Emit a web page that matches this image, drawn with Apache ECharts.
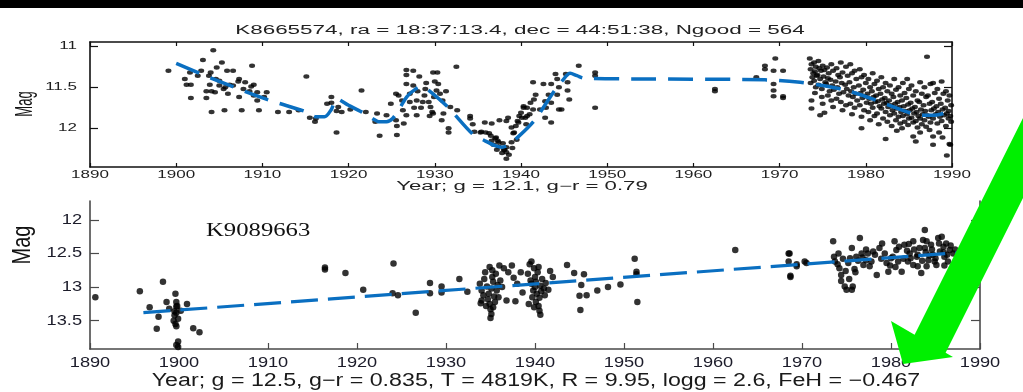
<!DOCTYPE html>
<html>
<head>
<meta charset="utf-8">
<script src="https://cdn.jsdelivr.net/npm/echarts@6/dist/echarts.min.js"></script>
<style>
  html, body { margin: 0; padding: 0; background: #fff; }
  #main { width: 1023px; height: 392px; }
</style>
</head>
<body>
<div id="main"></div>
<script>
// ---- Axis ticks -------------------------------------------------------
const yearTicks = [1890, 1900, 1910, 1920, 1930, 1940, 1950, 1960, 1970, 1980, 1990];
const topMagTicks = [11, 11.5, 12];
const bottomMagTicks = [12, 12.5, 13, 13.5];

// ---- KIC 8665574 photometry: [year, magnitude] --------------------------
const topEarly = [
  [1899.1,11.30],[1901.6,11.32],[1901.0,11.40],[1901.2,11.47],[1901.7,11.47],[1903.1,11.17],[1904.3,11.05],
  [1904.0,11.32],[1904.7,11.26],[1905.3,11.20],[1902.9,11.30],[1903.8,11.36],[1903.9,11.47],[1904.1,11.55],
  [1903.5,11.63],[1901.7,11.63],[1904.1,11.80],[1905.6,11.78],[1907.6,11.78],[1905.9,11.30],[1906.6,11.30],
  [1906.2,11.47],[1907.2,11.43],[1908.8,11.24],[1907.3,11.62],[1908.5,11.55],[1909.0,11.47],[1909.4,11.56],
  [1910.5,11.56],[1909.4,11.66],[1909.6,11.78],[1911.8,11.80],[1913.1,11.80],[1907.3,11.40],[1905.0,11.48],
  [1905.7,11.50],[1905.0,11.42],[1906.6,11.48],[1907.8,11.52],[1908.7,11.49],[1909.0,11.60],[1903.5,11.55],
  [1904.5,11.56],[1902.5,11.36],[1904.6,11.40],[1905.5,11.52],[1906.0,11.58],[1908.0,11.44],[1910.2,11.62],
  [1915.1,11.37],[1915.5,11.87],[1916.1,11.92],[1916.2,11.88],[1918.0,11.62],[1918.0,11.69],[1918.8,11.74],
  [1918.6,11.79],[1919.2,11.80],[1918.6,12.05],[1921.5,11.54],[1923.3,11.82],[1923.1,11.92],[1923.6,12.09],
  [1924.4,11.84],[1925.5,11.90],[1925.6,11.97],[1925.6,12.08],[1925.5,11.58],[1925.8,11.60],[1914.2,11.78],
  [1917.5,11.70],[1920.2,11.77],[1922.0,11.80],[1924.9,11.70]
];
const topMiddle = [
  [1926.7,11.29],[1926.7,11.35],[1927.5,11.30],[1928.2,11.37],[1926.7,11.46],[1927.5,11.48],[1927.1,11.58],
  [1927.9,11.66],[1927.1,11.68],[1926.3,11.78],[1926.7,11.84],[1927.9,11.84],[1928.6,11.68],[1929.3,11.68],
  [1929.5,11.74],[1929.8,11.32],[1930.3,11.32],[1930.0,11.43],[1930.4,11.46],[1930.2,11.54],[1930.6,11.58],
  [1929.7,11.80],[1929.4,11.85],[1931.0,11.82],[1930.8,11.90],[1931.8,11.74],[1932.6,11.78],[1932.5,11.25],
  [1931.6,12.05],[1928.0,11.55],[1928.8,11.60],[1929.0,11.45],[1928.4,11.75],[1929.9,11.62],[1930.9,11.66],
  [1931.3,11.55],[1926.4,11.94],[1929.8,11.82],[1931.6,12.00],[1926.2,11.66],[1928.9,11.52],[1927.6,11.75],
  [1934.1,11.88],[1934.4,11.95],[1934.6,12.04],[1935.8,11.93],[1936.6,12.15],[1937.4,12.17],[1934.1,11.85],
  [1935.3,12.05],[1935.9,12.05],[1936.5,12.09],[1937.1,12.11],[1937.3,12.15],[1937.9,12.18],[1938.1,12.26],
  [1938.3,12.29],[1938.3,12.37],[1938.3,12.23],[1938.9,12.17],[1939.2,12.05],[1939.4,11.97],[1939.6,11.91],
  [1939.8,11.85],[1940.0,11.81],[1940.3,11.75],[1940.5,11.87],[1940.6,11.95],[1941.0,11.83],[1941.4,11.77],
  [1942.9,11.75],[1943.5,11.93],[1944.7,11.77],[1937.5,11.90],[1936.6,11.94],[1935.4,12.04],[1936.3,12.06],
  [1937.0,12.12],[1937.4,12.22],[1938.0,12.26],[1938.5,11.87],[1938.3,11.91],[1938.9,11.99],[1939.1,12.06],
  [1939.5,12.14],[1939.7,11.93],[1940.1,11.87],[1940.3,11.73],[1940.7,11.75],[1940.7,11.85],[1941.1,11.69],
  [1941.5,11.65],[1941.7,11.59],[1941.4,11.44],[1942.6,11.46],[1943.5,11.46],[1942.8,11.67],[1943.5,11.69],
  [1942.8,11.87],[1942.2,11.77],[1943.2,11.59],[1944.0,11.34],[1944.2,11.40],[1944.4,11.50],[1944.2,11.59],
  [1944.4,11.77],[1945.2,11.34],[1945.4,11.44],[1945.4,11.54],[1945.6,11.65],[1946.7,11.24],[1948.6,11.32],
  [1948.6,11.36],[1948.6,11.75],[1937.8,12.30],[1938.6,12.32],[1937.2,12.26],[1936.8,12.20],[1939.0,12.24],
  [1962.5,11.52],[1962.5,11.55],[1967.3,11.38],[1968.3,11.24],[1968.3,11.28],[1969.5,11.15],[1969.3,11.30],
  [1970.4,11.30],[1969.3,11.46],[1969.3,11.54],[1969.3,11.61],[1970.4,11.61],[1970.4,11.63]
];
const topLate = [
  [1973.5,11.15],[1973.7,11.22],[1973.6,11.28],[1973.9,11.33],[1973.8,11.38],[1973.6,11.45],[1973.7,11.66],[1973.7,11.76],[1974.7,11.84],
  [1974.0,11.20],[1974.2,11.25],[1974.1,11.31],[1974.3,11.36],[1974.0,11.42],[1974.2,11.50],[1974.1,11.57],
  [1974.5,11.18],[1974.6,11.27],[1974.8,11.30],[1974.4,11.35],[1974.7,11.40],[1974.5,11.47],[1974.9,11.62],
  [1975.0,11.24],[1975.2,11.29],[1975.1,11.37],[1975.3,11.44],[1974.9,11.52],[1975.0,11.70],[1975.2,11.81],
  [1975.5,11.26],[1975.7,11.33],[1975.6,11.39],[1975.4,11.46],[1975.8,11.55],[1975.6,11.60],
  [1976.0,11.22],[1976.2,11.30],[1975.9,11.41],[1976.1,11.48],[1976.3,11.53],[1976.0,11.66],[1976.2,11.74],
  [1976.6,11.27],[1976.8,11.35],[1976.5,11.43],[1976.7,11.50],[1976.9,11.58],[1976.6,11.64],
  [1977.1,11.20],[1977.3,11.32],[1977.0,11.38],[1977.2,11.45],[1977.4,11.56],[1977.1,11.68],[1977.3,11.78],
  [1977.7,11.25],[1977.9,11.36],[1977.6,11.47],[1977.8,11.52],[1978.0,11.60],[1977.7,11.72],
  [1978.2,11.22],[1978.4,11.33],[1978.1,11.44],[1978.3,11.55],[1978.5,11.62],[1978.2,11.70],[1978.4,11.83],
  [1978.7,11.30],[1978.9,11.40],[1978.6,11.50],[1978.8,11.58],[1979.0,11.66],[1978.7,11.75],
  [1979.3,11.28],[1979.5,11.38],[1979.2,11.48],[1979.4,11.57],[1979.6,11.63],[1979.3,11.72],[1979.5,11.86],[1979.5,12.00],
  [1979.8,11.35],[1980.0,11.45],[1979.7,11.53],[1979.9,11.61],[1980.1,11.69],[1979.8,11.78],
  [1980.3,11.40],[1980.5,11.50],[1980.2,11.58],[1980.4,11.64],[1980.6,11.70],[1980.3,11.80],[1980.5,11.90],
  [1980.8,11.33],[1981.0,11.46],[1980.7,11.55],[1980.9,11.62],[1981.1,11.68],[1980.8,11.75],[1981.0,11.85],
  [1981.3,11.42],[1981.5,11.52],[1981.2,11.60],[1981.4,11.67],[1981.6,11.73],[1981.3,11.82],[1981.5,11.95],
  [1981.8,11.38],[1982.0,11.50],[1981.7,11.58],[1981.9,11.65],[1982.1,11.70],[1981.8,11.76],[1982.0,11.88],
  [1982.3,11.45],[1982.5,11.55],[1982.2,11.63],[1982.4,11.69],[1982.6,11.74],[1982.3,11.80],[1982.5,11.92],[1982.3,12.13],
  [1982.8,11.48],[1983.0,11.58],[1982.7,11.66],[1982.9,11.72],[1983.1,11.78],[1982.8,11.84],[1983.0,11.97],
  [1983.3,11.40],[1983.5,11.53],[1983.2,11.62],[1983.4,11.70],[1983.6,11.76],[1983.3,11.82],[1983.5,11.90],[1983.6,12.03],
  [1983.8,11.50],[1984.0,11.60],[1983.7,11.68],[1983.9,11.74],[1984.1,11.80],[1983.8,11.86],[1984.0,11.94],
  [1984.3,11.45],[1984.5,11.57],[1984.2,11.66],[1984.4,11.73],[1984.6,11.79],[1984.3,11.85],[1984.5,11.92],[1984.2,12.00],
  [1984.8,11.40],[1985.0,11.52],[1984.7,11.63],[1984.9,11.71],[1985.1,11.78],[1984.8,11.83],[1985.0,11.88],[1984.9,11.96],
  [1985.3,11.48],[1985.5,11.60],[1985.2,11.69],[1985.4,11.76],[1985.6,11.82],[1985.3,11.87],[1985.5,11.93],[1985.5,12.10],
  [1985.8,11.55],[1986.0,11.66],[1985.7,11.74],[1985.9,11.80],[1986.1,11.85],[1985.8,11.91],[1986.0,11.99],[1985.8,12.16],
  [1986.3,11.44],[1986.5,11.58],[1986.2,11.68],[1986.4,11.77],[1986.6,11.83],[1986.3,11.88],[1986.5,11.95],[1986.3,12.05],
  [1986.8,11.50],[1987.0,11.62],[1986.7,11.72],[1986.9,11.79],[1987.1,11.84],[1986.8,11.90],[1987.0,11.98],
  [1987.1,11.13],[1987.5,11.46],[1987.2,11.60],[1987.4,11.70],[1987.6,11.78],[1987.3,11.86],[1987.5,11.93],[1987.4,12.02],
  [1987.8,11.45],[1988.0,11.57],[1987.7,11.68],[1987.9,11.76],[1988.1,11.83],[1987.8,11.88],[1987.8,12.10],[1987.8,12.20],
  [1988.3,11.52],[1988.5,11.64],[1988.2,11.73],[1988.4,11.80],[1988.6,11.86],[1988.3,11.94],[1988.5,12.05],
  [1988.8,11.43],[1989.0,11.58],[1988.7,11.70],[1988.9,11.77],[1989.1,11.84],[1988.8,11.91],[1988.9,12.11],
  [1989.3,11.55],[1989.5,11.66],[1989.2,11.75],[1989.4,11.82],[1989.6,11.88],[1989.3,11.97],[1989.8,12.20],[1989.4,12.33],
  [1989.7,11.60],[1989.9,11.72],[1989.6,11.79],[1989.8,11.85],[1989.9,11.92],[1989.7,12.19]
];
// smoothed light-curve trend for KIC 8665574
const topTrend = [
  [1900,11.21],[1905,11.43],[1910.6,11.65],[1915.1,11.80],[1916.2,11.86],[1917.2,11.86],[1918.0,11.77],
  [1918.6,11.64],[1920.0,11.72],[1921.5,11.80],[1922.6,11.87],[1923.6,11.92],[1924.4,11.92],[1925.1,11.88],
  [1925.9,11.76],[1926.8,11.61],[1927.8,11.52],[1928.5,11.49],[1929.2,11.53],[1931.5,11.74],[1934.4,12.07],
  [1935.8,12.15],[1937.0,12.21],[1937.8,12.23],[1938.6,12.20],[1939.4,12.13],[1941.5,11.91],[1943.9,11.54],
  [1944.8,11.42],[1945.7,11.33],[1946.5,11.36],[1947.3,11.39],[1955,11.40],[1968.3,11.41],[1972.4,11.44],
  [1975,11.48],[1977.8,11.54],[1981,11.65],[1984.8,11.80],[1986.3,11.84],[1988,11.84],[1989,11.82]
];

// ---- KIC 9089663 photometry: [year, magnitude] --------------------------
const bottomEarly = [
  [1890.6,13.15],[1895.6,13.06],[1898.2,12.92],[1896.7,13.30],[1897.7,13.44],[1897.5,13.62],[1899.6,13.10],
  [1898.6,13.22],[1899.7,13.22],[1899.7,13.29],[1899.5,13.36],[1899.7,13.38],[1899.4,13.50],[1899.6,13.55],
  [1899.7,13.58],[1899.9,13.81],[1899.7,13.86],[1899.9,13.89],[1900.9,13.25],[1901.6,13.61],[1902.3,13.67],
  [1898.9,13.32],[1900.2,13.35],[1899.9,13.47],[1899.8,13.28],[1899.5,13.42],
  [1916.4,12.71],[1916.4,12.74],[1918.7,12.79],[1920.7,13.04],[1924.1,12.65],[1924.0,13.09],[1924.6,13.12],
  [1926.6,13.38],[1928.2,12.94],[1928.2,13.09],[1929.5,12.99],[1929.5,13.08],[1931.5,12.88],[1932.4,13.07]
];
const bottomMiddle = [
  [1933.8,12.95],[1934.0,13.05],[1934.2,13.12],[1934.0,13.20],[1934.3,12.88],[1934.5,13.28],[1934.6,12.99],
  [1934.8,13.10],[1934.7,13.18],[1934.9,13.25],[1935.0,13.33],[1935.1,13.40],[1935.0,13.46],[1935.2,12.85],
  [1935.3,12.92],[1935.1,13.02],[1935.4,13.14],[1935.5,13.22],[1935.3,13.30],[1935.2,12.75],[1935.6,12.80],
  [1935.7,13.05],[1935.8,12.97],[1936.0,12.68],[1936.1,12.90],[1935.9,13.15],[1934.4,12.78],[1933.9,13.24],
  [1936.3,13.00],[1936.5,12.72],[1937.0,12.78],[1937.4,12.68],[1937.6,12.86],[1937.8,13.21],[1938.0,12.95],
  [1938.4,12.78],[1938.6,13.08],[1936.8,13.20],[1934.9,12.70],
  [1939.2,12.80],[1939.4,12.66],[1939.6,12.62],[1939.6,12.95],[1939.8,13.05],[1939.7,13.15],[1939.9,12.72],
  [1940.0,12.85],[1940.1,12.92],[1940.0,13.00],[1940.2,13.10],[1940.1,13.22],[1940.3,12.78],[1940.4,13.28],
  [1940.5,13.35],[1940.6,13.41],[1940.4,12.70],[1940.6,12.98],[1940.7,13.06],[1940.5,13.16],[1940.8,12.88],
  [1941.0,13.02],[1941.2,12.94],[1941.1,13.12],[1939.3,13.25],[1939.5,12.90],[1941.5,13.04],[1942.0,12.85],
  [1941.7,12.76],[1939.9,13.30],
  [1943.6,12.67],[1944.4,12.79],[1945.5,12.81],[1945.2,12.97],[1945.0,13.13],[1945.8,13.12],[1945.1,13.34],
  [1947.0,13.05],[1948.2,13.00],[1949.6,12.96],[1951.2,12.58],[1951.4,12.77],[1951.4,12.81],[1951.5,13.22],
  [1962.5,12.45]
];
const bottomLate = [
  [1968.5,12.50],[1968.5,12.62],[1968.7,12.83],[1968.7,12.85],[1969.4,12.66],[1970.3,12.62],
  [1968.6,12.50],[1969.4,12.69],[1970.5,12.64],[1973.5,12.32],[1973.7,12.62],[1974.1,12.50],[1974.2,12.72],
  [1974.4,12.82],[1974.4,12.91],[1974.8,12.99],[1975.0,13.04],[1975.6,13.04],[1975.7,12.99],[1975.6,12.42],
  [1975.4,12.57],[1976.1,12.55],[1976.5,12.27],[1976.7,12.50],[1976.9,12.67],[1977.4,12.50],[1977.6,12.69],
  [1978.4,12.82],[1978.7,12.42],[1979.5,12.64],[1979.7,12.77],[1980.4,12.32],[1980.6,12.45],[1980.8,12.62],
  [1981.2,12.77],[1981.5,12.37],[1981.9,12.62],[1982.1,12.50],[1982.5,12.32],[1982.9,12.55],[1983.0,12.69],
  [1983.4,12.79],[1983.6,12.30],[1983.8,12.15],[1983.8,12.42],[1984.2,12.60],[1984.5,12.37],[1984.7,12.52],
  [1985.1,12.67],[1985.3,12.27],[1985.7,12.25],[1985.9,12.40],[1986.0,12.55],[1986.2,12.35],[1986.4,12.62],
  [1986.6,12.45],[1987.0,12.50],[1988.8,12.94],[1978.2,12.52],[1977.2,12.60],[1980.0,12.57],[1982.5,12.67],
  [1983.2,12.42],[1984.0,12.69],[1984.9,12.62],[1985.5,12.47],
  [1973.6,12.55],[1974.0,12.66],[1974.6,12.58],[1975.2,12.64],[1975.9,12.73],[1976.3,12.61],[1976.8,12.56],
  [1977.2,12.44],[1977.8,12.62],[1978.0,12.47],[1978.9,12.58],[1979.3,12.50],[1979.9,12.68],[1980.2,12.55],
  [1980.9,12.40],[1981.4,12.58],[1981.8,12.46],[1982.2,12.57],[1982.6,12.44],[1983.0,12.52],[1983.5,12.61],
  [1983.9,12.48],[1984.3,12.53],[1984.6,12.44],[1985.0,12.57],[1985.4,12.35],[1985.9,12.48],[1986.3,12.52],
  [1986.7,12.38],[1987.2,12.44],[1987.5,12.58],[1986.0,12.68],[1984.0,12.32],[1982.0,12.36],[1980.5,12.70],
  [1979.0,12.35],[1976.0,12.78],[1975.3,12.88],[1974.9,12.76]
];
// linear trend for KIC 9089663
const bottomTrend = [[1896,13.38],[1987.5,12.49]];

// ---- Axis ranges ------------------------------------------------------
const topMagRange = [10.95, 12.47];
const bottomMagRange = [11.72, 13.92];
const yearRange = [1890, 1990];

const INK = '#151515';
const TREND_BLUE = '#0a6fc1';
const FONT = "'Liberation Sans', Arial, Helvetica, sans-serif";

const chart = echarts.init(document.getElementById('main'), null, { renderer: 'canvas' });

function xAxisCfg(grid, position, tickLen, lineColor) {
  return {
    type: 'value', gridIndex: grid, position: position,
    min: yearRange[0], max: yearRange[1], interval: 10,
    axisLine: { show: true, onZero: false, lineStyle: { color: lineColor, width: 1.6 } },
    axisTick: { show: true, inside: true, length: tickLen, lineStyle: { color: lineColor, width: 1.2 } },
    axisLabel: { show: false }, splitLine: { show: false }
  };
}
function yAxisCfg(grid, position, range, ticks, tickLen, lineColor) {
  return {
    type: 'value', gridIndex: grid, position: position, inverse: true,
    min: range[0], max: range[1],
    axisLine: { show: true, onZero: false, lineStyle: { color: lineColor, width: 1.6 } },
    axisTick: { show: true, inside: true, length: tickLen, customValues: ticks,
                lineStyle: { color: lineColor, width: 1.2 } },
    axisLabel: { show: false }, splitLine: { show: false }
  };
}

chart.setOption({
  animation: false,
  backgroundColor: '#ffffff',
  grid: [
    { left: 90, top: 42, width: 862, height: 125 },
    { left: 90, top: 201, width: 890, height: 148 }
  ],
  xAxis: [
    xAxisCfg(0, 'bottom', 4, '#111'),
    xAxisCfg(0, 'top', 4, '#111'),
    xAxisCfg(1, 'bottom', 6, '#4a4a4a')
  ],
  yAxis: [
    yAxisCfg(0, 'left', topMagRange, topMagTicks, 8, '#111'),
    yAxisCfg(0, 'right', topMagRange, topMagTicks, 8, '#111'),
    yAxisCfg(1, 'left', bottomMagRange, bottomMagTicks, 9, '#4a4a4a'),
    yAxisCfg(1, 'right', bottomMagRange, bottomMagTicks, 9, '#4a4a4a')
  ],
  series: [
    {
      name: 'KIC 8665574', type: 'scatter', xAxisIndex: 0, yAxisIndex: 0,
      data: topEarly.concat(topMiddle, topLate),
      symbol: 'circle', symbolSize: [6, 4.5],
      itemStyle: { color: '#000' }, z: 2
    },
    {
      name: 'KIC 8665574 trend', type: 'line', xAxisIndex: 0, yAxisIndex: 0,
      data: topTrend, smooth: 0.3, showSymbol: false,
      lineStyle: { color: TREND_BLUE, width: 3.5, type: [25, 12], cap: 'butt' }, z: 3
    },
    {
      name: 'KIC 9089663', type: 'scatter', xAxisIndex: 2, yAxisIndex: 2,
      data: bottomEarly.concat(bottomMiddle, bottomLate),
      symbol: 'circle', symbolSize: 6.5,
      itemStyle: { color: '#000' }, z: 2
    },
    {
      name: 'KIC 9089663 trend', type: 'line', xAxisIndex: 2, yAxisIndex: 2,
      data: bottomTrend, showSymbol: false,
      lineStyle: { color: TREND_BLUE, width: 3.2, type: [27, 10], cap: 'butt' }, z: 3
    }
  ]
});

// ---- Text and annotations -----------------------------------------------
function label(text, x, y, size, align, stretchX, color) {
  return {
    type: 'text', x: x, y: y, scaleX: stretchX, silent: true, z: 10,
    style: {
      text: text, font: size + 'px ' + FONT, fill: color || INK,
      align: align, verticalAlign: 'middle',
      textAlign: align, textVerticalAlign: 'middle'
    }
  };
}

function px(xi, yi, x, y) {
  return chart.convertToPixel({ xAxisIndex: xi, yAxisIndex: yi }, [x, y]);
}

const elements = [
  { type: 'rect', shape: { x: 0, y: 0, width: 1023, height: 8 }, style: { fill: '#000' }, z: 20, silent: true },
  label('K8665574, ra = 18:37:13.4, dec = 44:51:38, Ngood = 564', 520, 31, 12, 'center', 1.87, '#222'),
  label('Year; g = 12.1, g\u2212r = 0.79', 522, 187, 12, 'center', 1.85, '#222'),
  {
    type: 'text', x: 26, y: 104, rotation: Math.PI / 2, scaleY: 1.8, silent: true, z: 10,
    style: { text: 'Mag', font: '13px ' + FONT, fill: '#151515', align: 'center', verticalAlign: 'middle',
             textAlign: 'center', textVerticalAlign: 'middle' }
  },
  {
    type: 'text', x: 23, y: 245, rotation: Math.PI / 2, scaleY: 1.3, silent: true, z: 10,
    style: { text: 'Mag', font: '20px ' + FONT, fill: '#111', align: 'center', verticalAlign: 'middle',
             textAlign: 'center', textVerticalAlign: 'middle' }
  },
  {
    type: 'text', x: 206, y: 231, scaleX: 1.3, silent: true, z: 10,
    style: { text: 'K9089663', font: "19px 'Liberation Serif', 'Times New Roman', serif", fill: '#111',
             align: 'left', verticalAlign: 'middle', textAlign: 'left', textVerticalAlign: 'middle' }
  },
  label('Year; g = 12.5, g\u2212r = 0.835, T = 4819K, R = 9.95, logg = 2.6, FeH = \u22120.467', 536, 381, 18, 'center', 1.29, '#1a1a1a')
];

// tick labels placed through the axes' own scales
yearTicks.forEach(function (yr) {
  const a = px(0, 0, yr, topMagRange[1]);
  elements.push(label(String(yr), a[0], a[1] + 8.5, 10, 'center', 1.7, '#1e1e1e'));
  const b = px(2, 2, yr, bottomMagRange[1]);
  elements.push(label(String(yr), b[0], b[1] + 14, 14, 'center', 1.3, '#1c1c2a'));
});
topMagTicks.forEach(function (m) {
  const a = px(0, 0, yearRange[0], m);
  elements.push(label(String(m), a[0] - 13, a[1], 10, 'right', 1.7, '#1e1e1e'));
});
bottomMagTicks.forEach(function (m) {
  const a = px(2, 2, yearRange[0], m);
  elements.push(label(String(m), a[0] - 8, a[1], 14, 'right', 1.3, '#1c1c2a'));
});

// green pointer arrow
elements.push({
  type: 'polygon', silent: true, z: 30,
  shape: { points: [[1042, 80], [914.6, 334.7], [891, 321], [903, 364], [953, 357], [945.6, 352.7], [1082, 80]] },
  style: { fill: '#00f000' }
});

chart.setOption({ graphic: { elements: elements } });
</script>
</body>
</html>
